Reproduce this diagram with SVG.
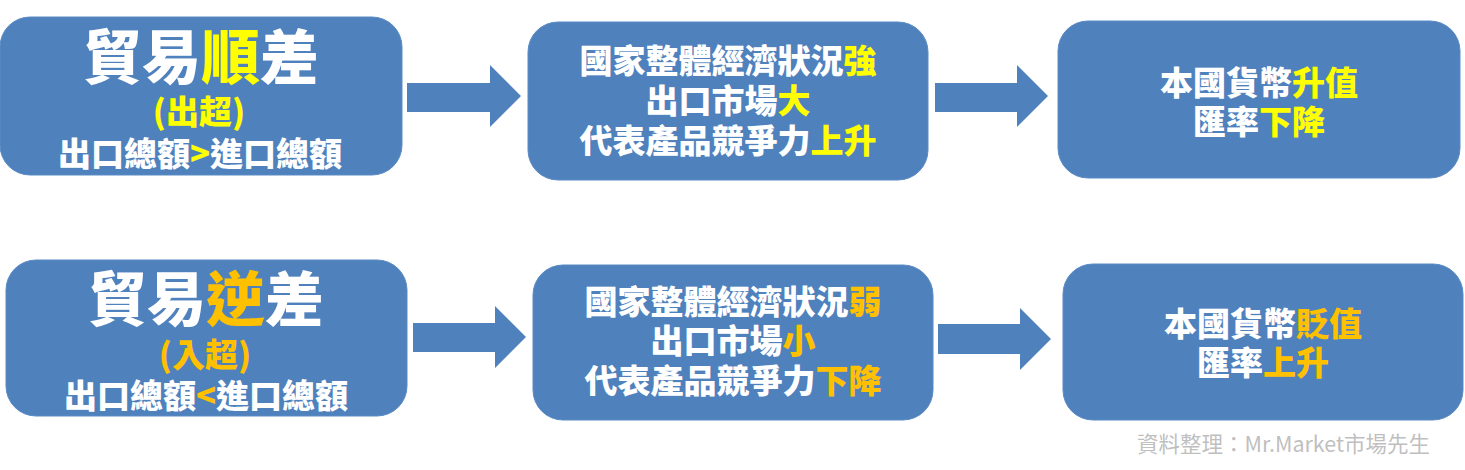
<svg xmlns="http://www.w3.org/2000/svg" width="1465" height="470" viewBox="0 0 1465 470">
<style>
.box{fill:#4F81BD;stroke:#5B8BC4;stroke-width:1}
.arr{fill:#4F81BD}
text{font-family:"Noto Sans CJK TC","Noto Sans CJK SC",sans-serif;font-weight:900;fill:#FFFFFF;text-anchor:middle}
.y{fill:#FFFF00}
.o{fill:#FFC000}
.src{font-weight:400;fill:#BFBFBF;text-anchor:start;font-size:21.5px}
</style>
<rect width="1465" height="470" fill="#FFFFFF"/>
<g id="connectors">
<polygon class="arr" points="407,83 490,83 490,65 521,96 490,127 490,112 407,112"/>
<polygon class="arr" points="935,83 1017,83 1017,65 1048,96 1017,127 1017,112 935,112"/>
<polygon class="arr" points="413,323 495,323 495,306 526,337 495,368 495,352 413,352"/>
<polygon class="arr" points="938,324 1020,324 1020,308 1051,339 1020,370 1020,354 938,354"/>
</g>
<g id="surplus">
<rect class="box" x="0" y="17" width="402" height="158" rx="30"/>
<text x="201" y="79" font-size="59">貿易<tspan class="y">順</tspan>差<tspan x="199" y="124" font-size="33" class="y">(出超)</tspan><tspan x="200" y="166" font-size="33">出口總額<tspan class="y">&gt;</tspan>進口總額</tspan></text>
</g>
<g id="surplus-effect">
<rect class="box" x="528" y="22" width="400" height="158" rx="30"/>
<text x="728" y="73" font-size="33">國家整體經濟狀況<tspan class="y">強</tspan><tspan x="728" y="113">出口市場<tspan class="y">大</tspan></tspan><tspan x="728" y="153">代表產品競爭力<tspan class="y">上升</tspan></tspan></text>
</g>
<g id="surplus-result">
<rect class="box" x="1058" y="21" width="402" height="157" rx="30"/>
<text x="1259" y="95" font-size="33">本國貨幣<tspan class="y">升值</tspan><tspan x="1259" y="134">匯率<tspan class="y">下降</tspan></tspan></text>
</g>
<g id="deficit">
<rect class="box" x="6" y="260" width="401" height="156" rx="30"/>
<text x="206" y="321" font-size="59">貿易<tspan class="o">逆</tspan>差<tspan x="205" y="367" font-size="33" class="o">(入超)</tspan><tspan x="206" y="408" font-size="33">出口總額<tspan class="o">&lt;</tspan>進口總額</tspan></text>
</g>
<g id="deficit-effect">
<rect class="box" x="533" y="265" width="400" height="155" rx="30"/>
<text x="733" y="314" font-size="33">國家整體經濟狀況<tspan class="o">弱</tspan><tspan x="733" y="353">出口市場<tspan class="o">小</tspan></tspan><tspan x="733" y="393">代表產品競爭力<tspan class="o">下降</tspan></tspan></text>
</g>
<g id="deficit-result">
<rect class="box" x="1063" y="264" width="400" height="156" rx="30"/>
<text x="1263" y="336" font-size="33">本國貨幣<tspan class="o">貶值</tspan><tspan x="1263" y="375">匯率<tspan class="o">上升</tspan></tspan></text>
</g>
<text class="src" x="1137" y="452">資料整理：Mr.Market市場先生</text>
</svg>
